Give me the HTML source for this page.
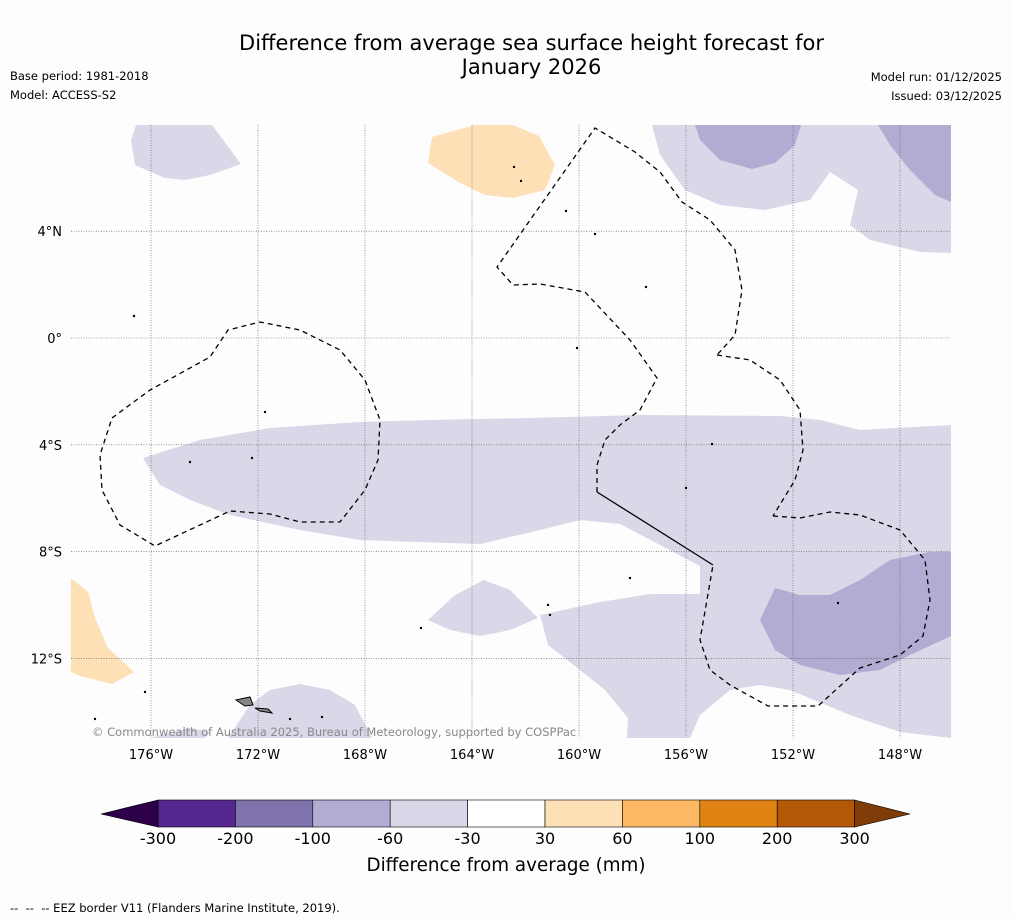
<!DOCTYPE html>
<html><head><meta charset="utf-8">
<style>
body{margin:0;background:#fdfdfd;font-family:"DejaVu Sans","Liberation Sans",sans-serif;}
.t{position:absolute;color:#000;}
</style></head>
<body>
<div style="position:relative;width:1011px;height:919px;overflow:hidden;background:#fdfdfd">
<div class="t" style="left:0;width:1063px;top:31px;text-align:center;font-size:21px;line-height:24px">Difference from average sea surface height forecast for<br>January 2026</div>
<div class="t" style="left:10px;top:69px;font-size:11.5px">Base period: 1981-2018</div>
<div class="t" style="left:10px;top:88px;font-size:11.5px">Model: ACCESS-S2</div>
<div class="t" style="right:9px;top:70px;font-size:11.5px">Model run: 01/12/2025</div>
<div class="t" style="right:9px;top:89px;font-size:11.5px">Issued: 03/12/2025</div>
<svg id="map" width="1011" height="919" style="position:absolute;left:0;top:0"></svg>
<div class="t" style="left:10px;top:901px;font-size:11.5px">-- &nbsp;-- &nbsp;-- EEZ border V11 (Flanders Marine Institute, 2019).</div>
</div>
<script>
const levels=[-300,-200,-100,-60,-30,30,60,100,200,300];
const colors=["#54278f","#8073ac","#b2abd2","#d8d8e8","#ffffff","#fee0b6","#fdb863","#e08214","#b35806"];
const lowExt="#2d004b", highExt="#7f3b08";
const lonTicks=[-176,-172,-168,-164,-160,-156,-152,-148];
const latTicks=[4,0,-4,-8,-12];
const FF='DejaVu Sans, Liberation Sans, sans-serif';
const NS="http://www.w3.org/2000/svg";
const svg=document.getElementById('map');
function xLon(l){return 151+(l+176)*26.75;}
function yLat(l){return 338-l*26.7;}
function mk(tag,attrs,parent){const e=document.createElementNS(NS,tag);for(const k in attrs)e.setAttribute(k,attrs[k]);(parent||svg).appendChild(e);return e;}
function poly(pts,fill,name,stroke){
 const e=mk('polygon',{points:pts,fill:fill,stroke:stroke||'none'});
 
 
 return e;}
function line(pts,name,dash){
 const e=mk('polyline',{points:pts,fill:'none',stroke:'#000','stroke-width':1.3,'stroke-dasharray':dash?'5,4':'none'});
 
 
 return e;}
const L="#d8d8e8",D="#b2abd2",O="#fee0b6";
poly("136,125 212,125 241,164 210,175 185,180 165,178 135,165 131,140",L,"anomaly-region-nw");
poly("432,137 475,125 513,125 539,136 555,165 545,190 513,198 485,195 460,183 428,163",O,"anomaly-region-positive-north");
poly("652,125 951,125 951,253 920,252 870,240 850,225 858,190 830,172 810,200 765,210 720,205 685,190 660,155",L,"anomaly-region-ne");
poly("695,125 801,125 795,145 775,163 752,169 720,160 700,140",D,"anomaly-region-ne-strong");
poly("878,125 951,125 951,202 935,195 910,170 890,145",D,"anomaly-region-ne-strong-2");
poly("143,458 200,440 270,428 360,422 430,420 530,418 640,415 780,416 820,420 860,430 951,425 951,738 900,732 850,715 790,690 760,685 730,690 700,715 690,738 627,738 628,718 605,690 580,670 548,645 540,615 600,602 650,594 700,594 700,566 660,545 620,524 580,520 540,530 480,544 360,540 300,530 230,515 190,500 160,485",L,"anomaly-band-south");
poly("775,588 800,595 830,595 860,580 890,560 930,552 951,552 951,636 910,655 880,670 840,675 800,665 775,650 760,620",D,"anomaly-region-se-strong");
poly("428,620 455,595 484,580 510,590 538,618 510,630 480,636 450,630",L,"anomaly-region-small");
poly("250,705 270,690 300,684 330,690 355,705 372,738 228,738 240,720",L,"anomaly-region-sw");
poly("150,738 190,728 210,732 205,738",L,"anomaly-region-sw-2");
poly("71,578 88,592 95,618 108,648 134,672 112,684 80,676 71,672",O,"anomaly-region-positive-west");
lonTicks.forEach(v=>{const x=xLon(v);
 const g=mk('line',{x1:x,x2:x,y1:125,y2:738,stroke:'#555','stroke-width':0.6,'stroke-dasharray':'1,1.5'});
 
 const t=mk('text',{x:x,y:759,'text-anchor':'middle','font-size':13,'font-family':FF});t.textContent=Math.abs(v)+'°W';
 });
latTicks.forEach(v=>{const y=yLat(v);
 const g=mk('line',{x1:71,x2:951,y1:y,y2:y,stroke:'#555','stroke-width':0.6,'stroke-dasharray':'1,1.5'});
 
 const t=mk('text',{x:62,y:y+5,'text-anchor':'end','font-size':13,'font-family':FF});t.textContent=v===0?'0°':Math.abs(v)+'°'+(v>0?'N':'S');
 });
line("112,418 150,390 210,357 228,330 260,322 300,330 340,350 365,380 380,420 378,460 365,490 340,522 300,522 270,514 230,511 155,546 120,525 102,490 100,455 112,418","eez-border-west",true);
line("597,492 597,465 605,440 620,425 640,410 657,378 630,340 585,292 540,284 513,285 497,267 595,128 635,152 660,172 682,202 710,220 735,250 742,290 735,335 717,355","eez-border-central",true);
line("717,355 750,360 780,380 800,410 803,450 795,480 773,516","eez-border-east",true);
line("773,516 800,518 830,512 860,515 900,530 925,560 930,600 923,636 900,655 860,668 818,706 768,706 730,685 710,670 700,640 713,565","eez-border-southeast",true);
line("597,492 713,565","eez-border-solid",false);
poly("236,700 250,697 253,705 245,706","#888","samoa-island","#000");
poly("255,708 268,709 272,713 260,711","#888","samoa-island-2","#000");
[[514,167],[521,181],[566,211],[595,234],[646,287],[265,412],[190,462],[252,458],[686,488],[712,444],[630,578],[548,605],[550,615],[421,628],[145,692],[95,719],[290,719],[322,717],[838,603],[577,348],[134,316]].forEach(p=>{
 const c=mk('circle',{cx:p[0],cy:p[1],r:1.2,fill:'#000'});
 });
const cr=mk('text',{x:92,y:736,'font-size':11.5,fill:'#888','font-family':FF});
cr.textContent='© Commonwealth of Australia 2025, Bureau of Meteorology, supported by COSPPac';

const cbX0=158,cbW=77.4,cbY=800,cbH=27;
colors.forEach((c,i)=>{
 const r=mk('rect',{x:cbX0+i*cbW,y:cbY,width:cbW,height:cbH,fill:c,stroke:'#000','stroke-width':0.6});
 });
const cbEnd=cbX0+colors.length*cbW;
const lt=mk('polygon',{points:`${cbX0},${cbY} 101,${cbY+cbH/2+0.5} ${cbX0},${cbY+cbH}`,fill:lowExt,stroke:'#000','stroke-width':0.6});

const ht=mk('polygon',{points:`${cbEnd},${cbY} 910,${cbY+cbH/2+0.5} ${cbEnd},${cbY+cbH}`,fill:highExt,stroke:'#000','stroke-width':0.6});

levels.forEach((v,i)=>{
 const t=mk('text',{x:cbX0+i*cbW,y:844,'text-anchor':'middle','font-size':16,'font-family':FF});t.textContent=v;
 });
const ct=mk('text',{x:506,y:871,'text-anchor':'middle','font-size':18.3,'font-family':FF});
ct.textContent='Difference from average (mm)';

</script>
</body></html>
